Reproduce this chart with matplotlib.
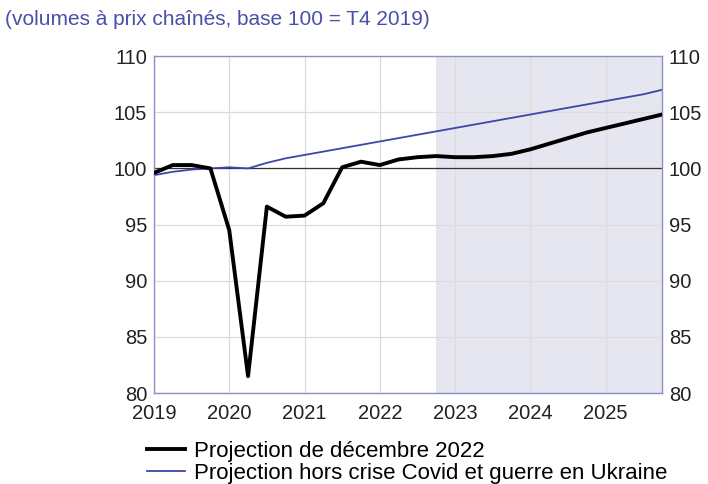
import numpy as np
import matplotlib.pyplot as plt

# trimestres de T1 2019 à T4 2025
years = list(range(2019, 2026))
quarters = [y + q / 4 for y in years for q in range(4)]

projection_dec_2022 = [
    99.6, 100.3, 100.3, 100.0,
    94.5, 81.5, 96.6, 95.7,
    95.8, 96.9, 100.1, 100.6,
    100.3, 100.8, 101.0, 101.1,
    101.0, 101.0, 101.1, 101.3,
    101.7, 102.2, 102.7, 103.2,
    103.6, 104.0, 104.4, 104.8,
]
projection_hors_crise = [
    99.4, 99.7, 99.9, 100.0,
    100.1, 100.0, 100.5, 100.9,
    101.2, 101.5, 101.8, 102.1,
    102.4, 102.7, 103.0, 103.3,
    103.6, 103.9, 104.2, 104.5,
    104.8, 105.1, 105.4, 105.7,
    106.0, 106.3, 106.6, 107.0,
]
projection_start = 2022.75

labels = ["Projection de décembre 2022",
          "Projection hors crise Covid et guerre en Ukraine"]
title = "(volumes à prix chaînés, base 100 = T4 2019)"

plt.rcParams["font.family"] = ["Liberation Sans", "DejaVu Sans"]

fig = plt.figure(figsize=(7.08, 4.84), dpi=100)
ax = fig.add_axes([0.2175, 0.188, 0.7175, 0.696])

# zone de projection
ax.axvspan(projection_start, quarters[-1], color="#e6e6f0", zorder=0, lw=0)
ax.axhline(100, color="#333333", lw=0.9, zorder=1)

ax.plot(quarters, projection_dec_2022, color="black", lw=2.8, zorder=3,
        label=labels[0])
ax.plot(quarters, projection_hors_crise, color="#3d46a6", lw=1.3, zorder=2,
        label=labels[1])

ax.set_xlim(2019, quarters[-1])
ax.set_ylim(80, 110)
ax.set_xticks(years)
ax.set_yticks(range(80, 111, 5))
ax.grid(True, color="#dcdcdc", lw=0.9, zorder=0)
ax.set_axisbelow(True)
for s in ax.spines.values():
    s.set_color("#8a90cc")
    s.set_linewidth(1.0)
ax.tick_params(length=0, labelsize=14.5, colors="#222222")
ax.tick_params(axis="y", labelright=True, pad=5)
ax.tick_params(axis="x", pad=8)

fig.text(0.007, 0.96, title, color="#4a4fa8", fontsize=15, va="center")

fig.legend(loc="upper left", bbox_to_anchor=(0.207, 0.089), frameon=False,
           fontsize=16, handlelength=1.75, handletextpad=0.4,
           labelspacing=0.05, borderaxespad=0, borderpad=0)

fig.savefig("out.png", dpi=100)
